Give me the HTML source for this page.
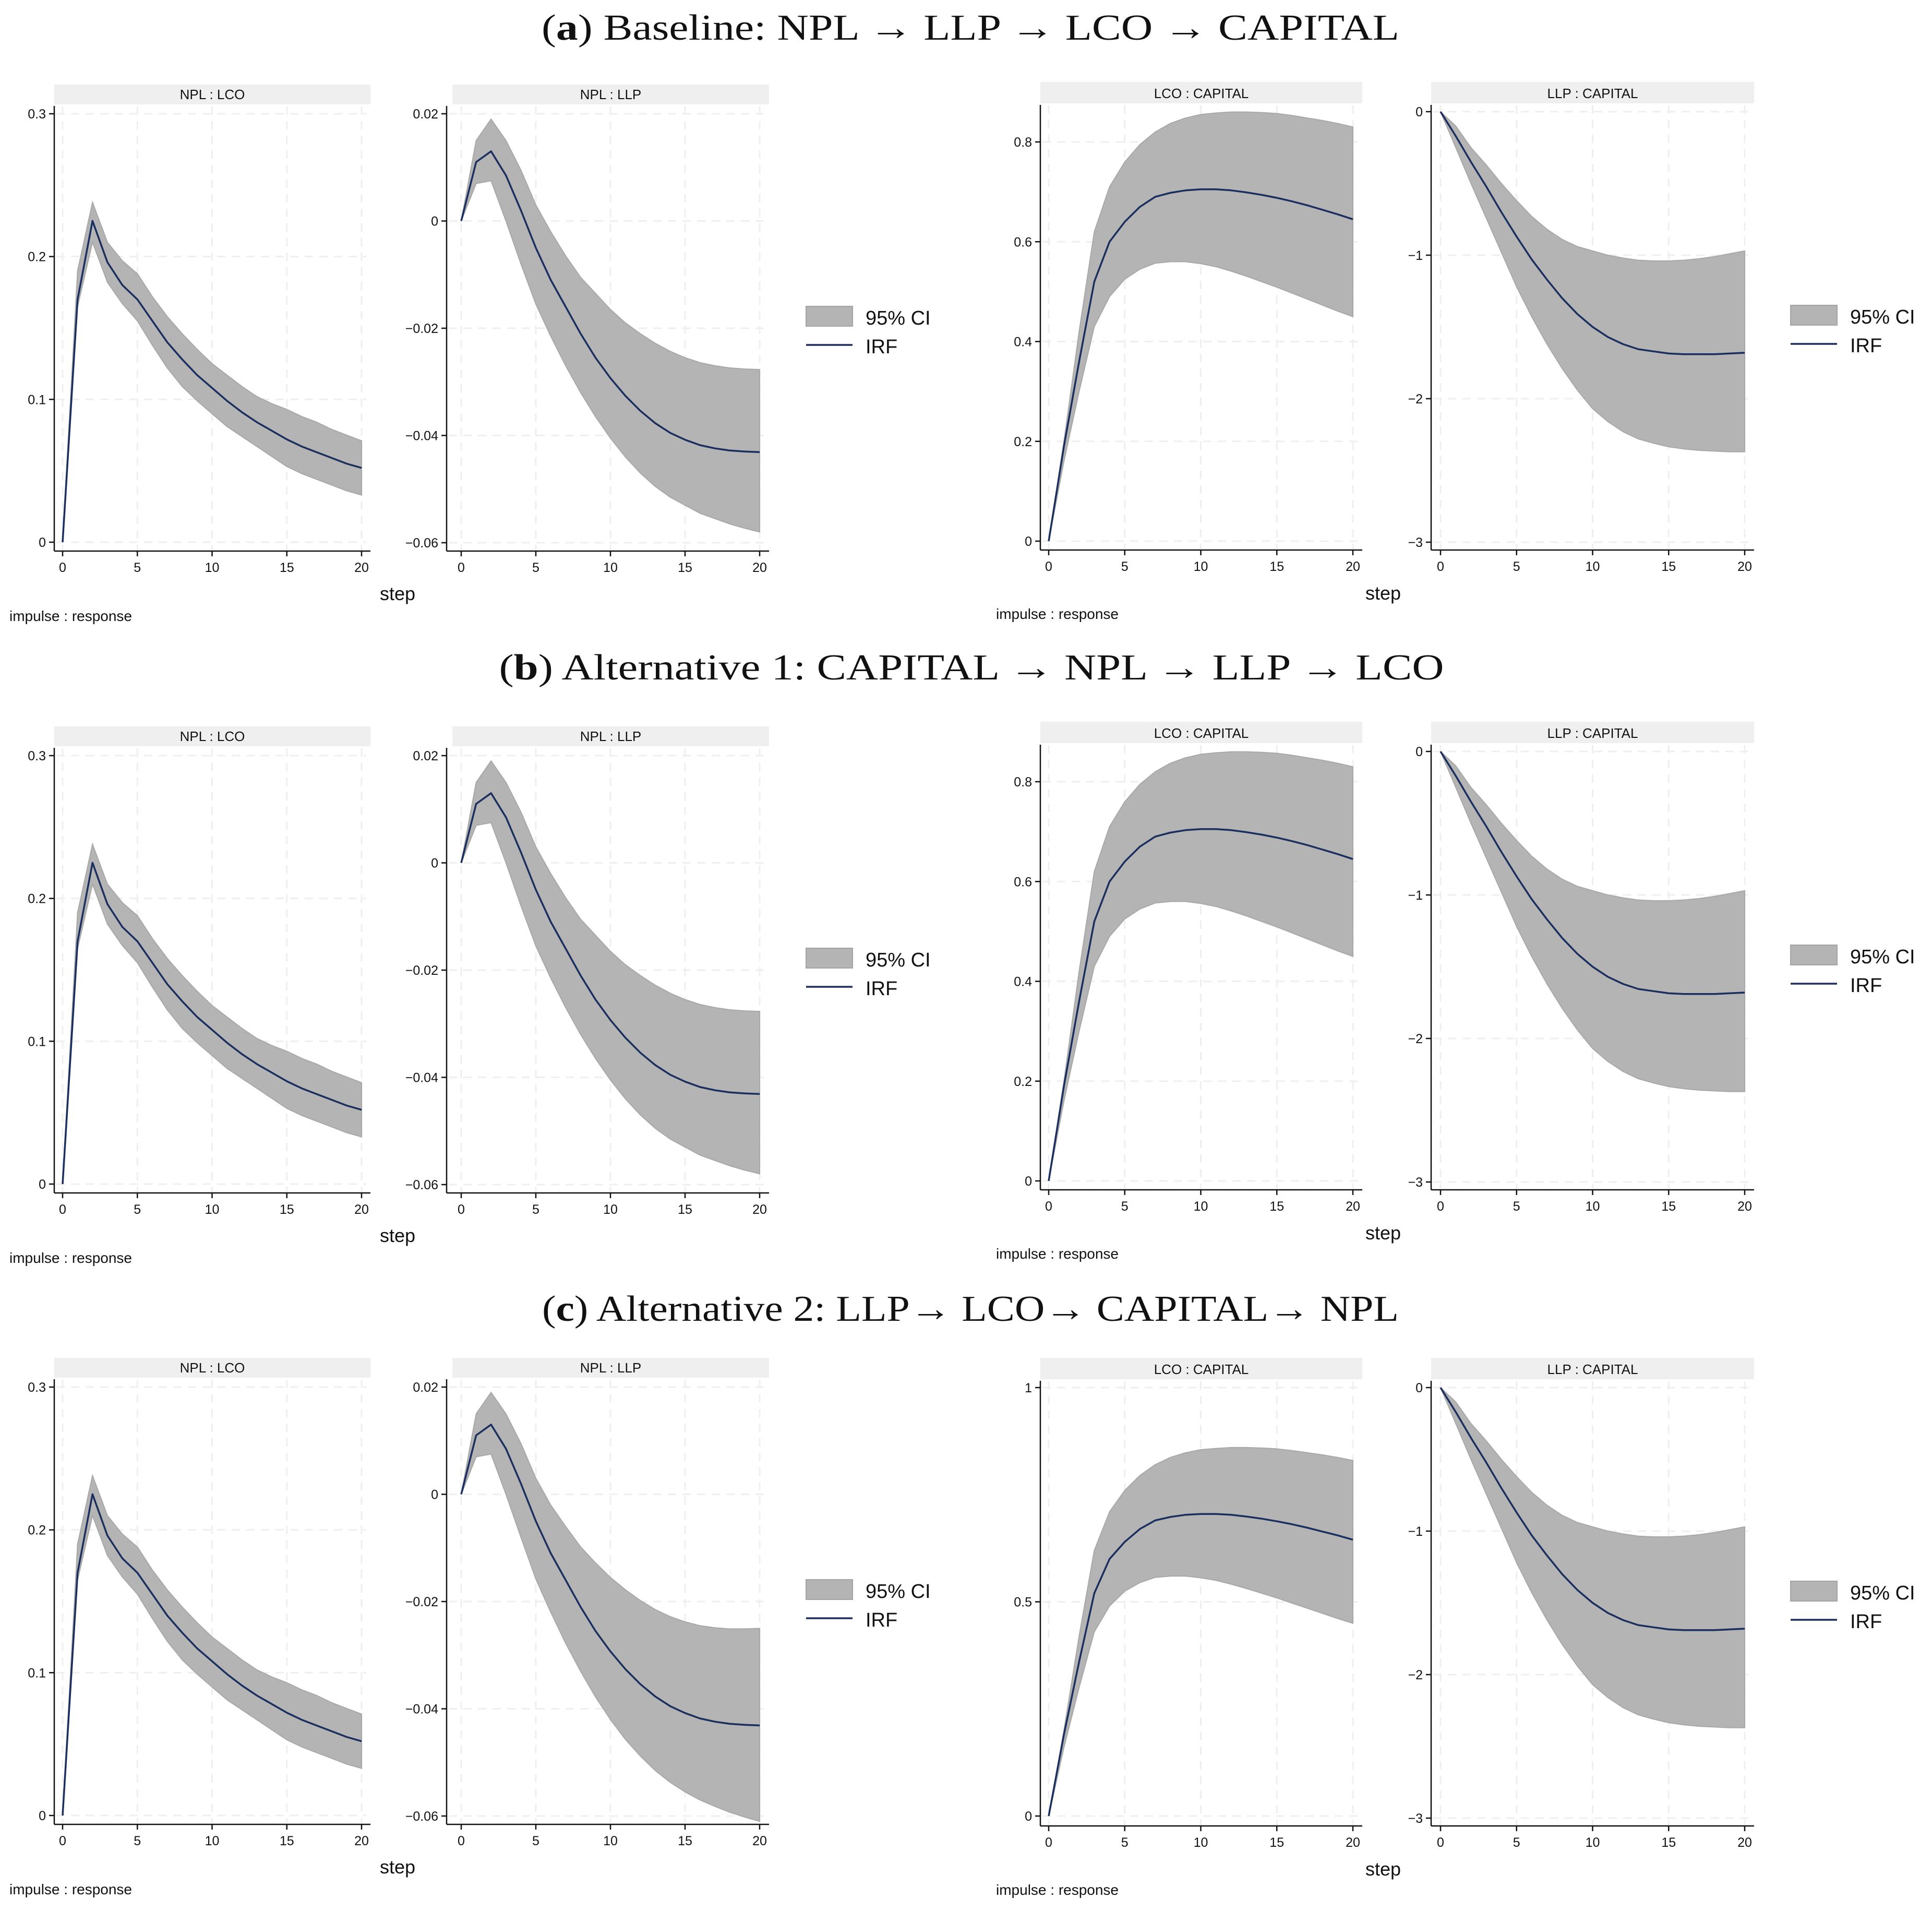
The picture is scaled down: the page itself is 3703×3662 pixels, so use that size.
<!DOCTYPE html>
<html><head><meta charset="utf-8"><style>
html,body{margin:0;padding:0;background:#fff;}
svg{display:block;}
</style></head><body>
<svg id="fig" xmlns="http://www.w3.org/2000/svg" width="3703" height="3662" viewBox="0 0 3703 3662"></svg>
<script>
const steps = [0,1,2,3,4,5,6,7,8,9,10,11,12,13,14,15,16,17,18,19,20];
const xTicks = [0,5,10,15,20];
// NPL : LCO
const lcoIrf = [0,0.17,0.225,0.196,0.18,0.17,0.155,0.14,0.128,0.117,0.108,0.099,0.091,0.084,0.078,0.072,0.067,0.063,0.059,0.055,0.052];
const lcoUp  = [0,0.19,0.238,0.21,0.197,0.188,0.172,0.158,0.146,0.135,0.125,0.117,0.109,0.102,0.097,0.093,0.088,0.084,0.079,0.075,0.071];
const lcoLo  = [0,0.165,0.21,0.182,0.167,0.155,0.138,0.122,0.109,0.099,0.09,0.081,0.074,0.067,0.06,0.053,0.048,0.044,0.04,0.036,0.033];
const lcoTicks = [0,0.1,0.2,0.3];
// NPL : LLP
const llpIrf = [0,0.011,0.013,0.0085,0.002,-0.005,-0.011,-0.016,-0.021,-0.0255,-0.0293,-0.0326,-0.0354,-0.0377,-0.0395,-0.0408,-0.0418,-0.0424,-0.0428,-0.043,-0.0431];
const llpUp  = [0,0.015,0.019,0.015,0.0095,0.003,-0.002,-0.0065,-0.0105,-0.0135,-0.0165,-0.019,-0.021,-0.0228,-0.0243,-0.0255,-0.0264,-0.027,-0.0274,-0.0276,-0.0277];
const llpLo  = [0,0.007,0.0075,0,-0.008,-0.0155,-0.0215,-0.027,-0.032,-0.0365,-0.0405,-0.044,-0.047,-0.0495,-0.0515,-0.053,-0.0545,-0.0555,-0.0565,-0.0573,-0.058];
const llpUpC = [0,0.015,0.019,0.015,0.0095,0.003,-0.002,-0.006,-0.0098,-0.0128,-0.0155,-0.0178,-0.0198,-0.0215,-0.0228,-0.0238,-0.0245,-0.0249,-0.0251,-0.0251,-0.025];
const llpLoC = [0,0.007,0.0075,0,-0.008,-0.0158,-0.022,-0.0278,-0.033,-0.0378,-0.042,-0.0457,-0.0488,-0.0515,-0.0537,-0.0555,-0.057,-0.0582,-0.0593,-0.0602,-0.061];
const llpTicks = [-0.06,-0.04,-0.02,0,0.02];
// LCO : CAPITAL
const capIrf = [0,0.19,0.36,0.52,0.6,0.64,0.67,0.69,0.698,0.703,0.705,0.705,0.703,0.699,0.694,0.688,0.681,0.673,0.664,0.655,0.645];
const capUp  = [0,0.2,0.42,0.62,0.71,0.76,0.795,0.82,0.837,0.848,0.855,0.858,0.86,0.86,0.859,0.857,0.853,0.848,0.843,0.837,0.83];
const capLo  = [0,0.16,0.3,0.43,0.49,0.525,0.545,0.557,0.56,0.56,0.556,0.55,0.541,0.531,0.52,0.509,0.497,0.485,0.473,0.461,0.45];
const capTicks = [0,0.2,0.4,0.6,0.8];
const capTicksC = [0,0.5,1];
// LLP : CAPITAL
const kIrf = [0,-0.17,-0.35,-0.52,-0.7,-0.87,-1.03,-1.17,-1.3,-1.41,-1.5,-1.57,-1.62,-1.655,-1.67,-1.685,-1.69,-1.69,-1.69,-1.685,-1.68];
const kUp  = [0,-0.1,-0.25,-0.37,-0.5,-0.62,-0.73,-0.82,-0.89,-0.94,-0.97,-1.0,-1.02,-1.035,-1.04,-1.04,-1.035,-1.025,-1.01,-0.99,-0.97];
const kLo  = [0,-0.25,-0.5,-0.74,-0.98,-1.22,-1.43,-1.62,-1.79,-1.94,-2.07,-2.16,-2.23,-2.28,-2.31,-2.335,-2.35,-2.36,-2.365,-2.37,-2.37];
const kTicks = [-3,-2,-1,0];

const NS = 'http://www.w3.org/2000/svg';
const svg = document.getElementById('fig');
function el(tag, attrs, parent){
  const e = document.createElementNS(NS, tag);
  for (const k in attrs) e.setAttribute(k, attrs[k]);
  (parent||svg).appendChild(e);
  return e;
}
function fmt(v){
  if (Math.abs(v) < 1e-12) return '0';
  let s = String(+v.toFixed(2));
  return s.replace('-', '\u2212');
}
const FONT = '"Liberation Sans", Arial, sans-serif';

function panel(p){
  const g = el('g', {});
  
  
  const xs = v => p.x0 + (p.x20 - p.x0) * v / 20;
  const ys = v => p.yA + (p.yB - p.yA) * (v - p.vA) / (p.vB - p.vA);
  const hd = el('rect', {x:p.hx0, y:p.hy0, width:p.hx1-p.hx0, height:p.hy1-p.hy0, fill:'#efefef'}, g);
  
  
  const ht = el('text', {x:(p.hx0+p.hx1)/2, y:p.hy1-10, 'font-family':FONT, 'font-size':26, 'text-anchor':'middle', fill:'#111'}, g);
  ht.textContent = p.title;
  
  
  for (const t of p.ticks){
    const gl = el('line', {x1:p.ax+4, x2:p.hx1-8, y1:ys(t), y2:ys(t), stroke:'#efefef', 'stroke-width':3, 'stroke-dasharray':'16 12'}, g);
    
    
  }
  for (const t of xTicks){
    const gl = el('line', {x1:xs(t), x2:xs(t), y1:p.hy1+4, y2:p.axBottom-2, stroke:'#efefef', 'stroke-width':3, 'stroke-dasharray':'16 12'}, g);
    
    
  }
  let d = '';
  steps.forEach((s,i)=>{ d += (i?'L':'M') + xs(s).toFixed(1) + ',' + ys(p.up[i]).toFixed(1); });
  for (let i = steps.length-1; i >= 0; i--) d += 'L' + xs(steps[i]).toFixed(1) + ',' + ys(p.lo[i]).toFixed(1);
  const band = el('path', {d:d+'Z', fill:'#b4b4b4', stroke:'#a8a8a8', 'stroke-width':2}, g);
  
  
  let dl = '';
  steps.forEach((s,i)=>{ dl += (i?'L':'M') + xs(s).toFixed(1) + ',' + ys(p.irf[i]).toFixed(1); });
  const line = el('path', {d:dl, fill:'none', stroke:'#1a2f5e', 'stroke-width':3.5, 'stroke-linejoin':'round'}, g);
  
  
  const ya = el('line', {x1:p.ax, x2:p.ax, y1:p.hy1+3, y2:p.axBottom, stroke:'#111', 'stroke-width':2.5}, g);
  
  
  const xa = el('line', {x1:p.ax, x2:p.hx1, y1:p.axBottom, y2:p.axBottom, stroke:'#111', 'stroke-width':2.5}, g);
  
  
  for (const t of p.ticks){
    el('line', {x1:p.ax-10, x2:p.ax, y1:ys(t), y2:ys(t), stroke:'#111', 'stroke-width':2.5}, g);
    const tl = el('text', {x:p.ax-16, y:ys(t)+9, 'font-family':FONT, 'font-size':25, 'text-anchor':'end', fill:'#111'}, g);
    tl.textContent = fmt(t);
    
    
  }
  for (const t of xTicks){
    el('line', {x1:xs(t), x2:xs(t), y1:p.axBottom, y2:p.axBottom+10, stroke:'#111', 'stroke-width':2.5}, g);
    const tl = el('text', {x:xs(t), y:p.axBottom+40, 'font-family':FONT, 'font-size':25, 'text-anchor':'middle', fill:'#111'}, g);
    tl.textContent = String(t);
    
    
  }
}

function legend(x, y){
  const g = el('g', {});
  
  
  const r = el('rect', {x:x, y:y, width:89, height:38, fill:'#b4b4b4', stroke:'#a4a4a4', 'stroke-width':2}, g);
  
  
  const t1 = el('text', {x:x+114, y:y+35, 'font-family':FONT, 'font-size':38, fill:'#111'}, g);
  t1.textContent = '95% CI';
  
  
  const l = el('line', {x1:x, x2:x+89, y1:y+74, y2:y+74, stroke:'#1a2f5e', 'stroke-width':3.5}, g);
  
  
  const t2 = el('text', {x:x+114, y:y+90, 'font-family':FONT, 'font-size':38, fill:'#111'}, g);
  t2.textContent = 'IRF';
  
  
}

function label(txt, x, y, size, name, anchor){
  const t = el('text', {x:x, y:y, 'font-family':FONT, 'font-size':size, fill:'#111', 'text-anchor':anchor||'start'});
  t.textContent = txt;
  
  
}

function title(letter, rest, cx, y, w){
  const t = el('text', {x:cx, y:y, 'font-family':'"Liberation Serif", "DejaVu Serif", serif', 'font-size':70, fill:'#111', 'text-anchor':'middle', textLength:w, lengthAdjust:'spacingAndGlyphs'});
  
  
  const a = document.createElementNS(NS,'tspan'); a.textContent='('; t.appendChild(a);
  const b = document.createElementNS(NS,'tspan'); b.setAttribute('font-weight','bold'); b.textContent=letter; t.appendChild(b);
  const c = document.createElementNS(NS,'tspan'); c.textContent=')' + rest; t.appendChild(c);
}

const rows = [
  {L:0, R:0, ty:76, tx:1860, tw:1644, letter:'a', rest:' Baseline: NPL \u2192 LLP \u2192 LCO \u2192 CAPITAL', c:false},
  {L:1230, R:1226, ty:1302, tx:1862, tw:1811, letter:'b', rest:' Alternative 1: CAPITAL \u2192 NPL \u2192 LLP \u2192 LCO', c:false},
  {L:2440, R:2445, ty:2531, tx:1860, tw:1642, letter:'c', rest:' Alternative 2: LLP\u2192 LCO\u2192 CAPITAL\u2192 NPL', c:true}
];

rows.forEach(r=>{
  title(r.letter, r.rest, r.tx, r.ty, r.tw);
  const L = r.L, R = r.R;
  panel({name:'panel-npl-lco', title:'NPL : LCO', hx0:104, hx1:710, hy0:162+L, hy1:200+L, ax:104, axBottom:1056+L,
    x0:120, x20:693, vA:0, yA:1039+L, vB:0.3, yB:218+L, ticks:lcoTicks, irf:lcoIrf, up:lcoUp, lo:lcoLo});
  panel({name:'panel-npl-llp', title:'NPL : LLP', hx0:867, hx1:1474, hy0:162+L, hy1:200+L, ax:856, axBottom:1056+L,
    x0:884, x20:1456, vA:0.02, yA:218+L, vB:-0.06, yB:1040+L, ticks:llpTicks, irf:llpIrf,
    up:r.c?llpUpC:llpUp, lo:r.c?llpLoC:llpLo});
  if (r.c){
    panel({name:'panel-lco-capital', title:'LCO : CAPITAL', hx0:1994, hx1:2611, hy0:157+R, hy1:198+R, ax:1994, axBottom:1054+R,
      x0:2010, x20:2593, vA:0, yA:1035+R, vB:1, yB:214+R, ticks:capTicksC, irf:capIrf, up:capUp, lo:capLo});
  } else {
    panel({name:'panel-lco-capital', title:'LCO : CAPITAL', hx0:1994, hx1:2611, hy0:157+R, hy1:198+R, ax:1994, axBottom:1054+R,
      x0:2010, x20:2593, vA:0, yA:1037+R, vB:0.8, yB:272+R, ticks:capTicks, irf:capIrf, up:capUp, lo:capLo});
  }
  panel({name:'panel-llp-capital', title:'LLP : CAPITAL', hx0:2743, hx1:3362, hy0:157+R, hy1:198+R, ax:2743, axBottom:1054+R,
    x0:2761, x20:3344, vA:0, yA:214+R, vB:-3, yB:1039+R, ticks:kTicks, irf:kIrf, up:kUp, lo:kLo});
  legend(1545, 587+L);
  legend(3432, 585+R);
  label('step', 762, 1150+L, 36, 'x-axis-title', 'middle');
  label('step', 2651, 1149+R, 36, 'x-axis-title', 'middle');
  label('impulse : response', 18, 1190+L, 28, 'impulse-response-note');
  label('impulse : response', 1909, 1186+R, 28, 'impulse-response-note');
});
</script>
</body></html>
